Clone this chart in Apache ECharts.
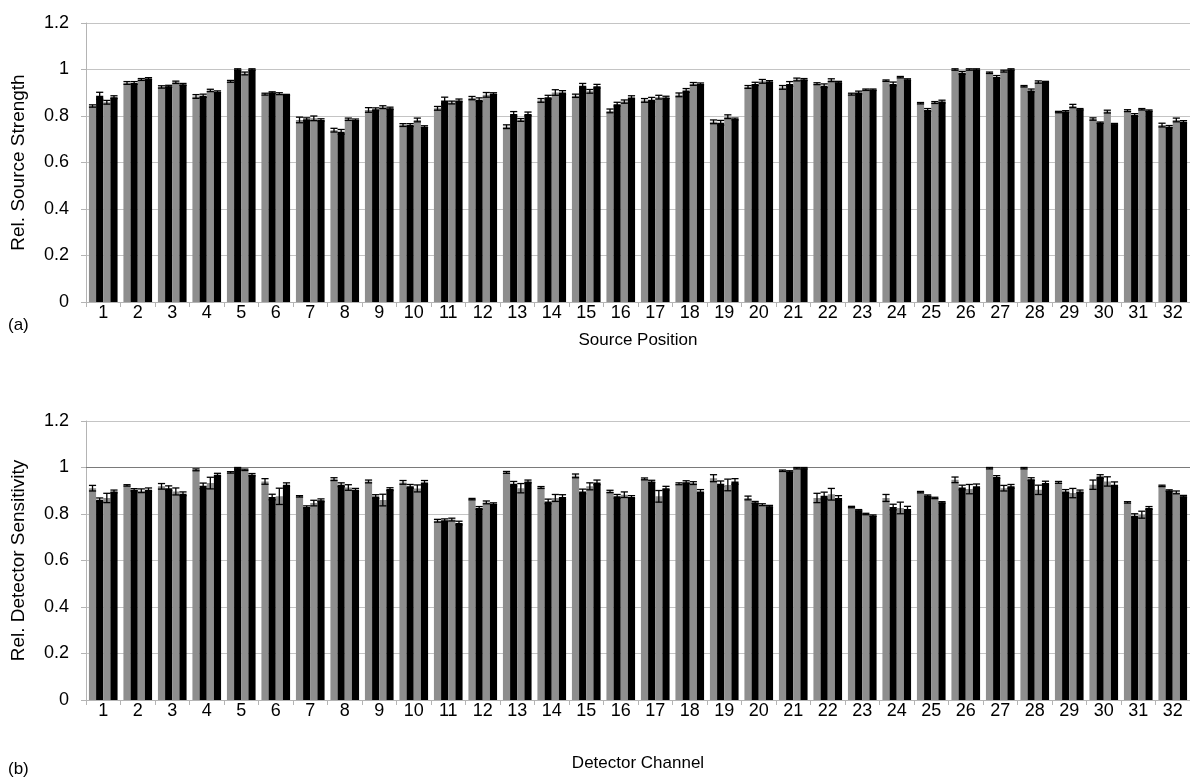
<!DOCTYPE html>
<html>
<head>
<meta charset="utf-8">
<script src="https://cdn.jsdelivr.net/npm/echarts@6/dist/echarts.min.js"></script>
<style>
html,body{margin:0;padding:0;background:#fff;}
#chart{width:1190px;height:783px;}
</style>
</head>
<body>
<div id="chart"></div>
<script>
const categories = ['1','2','3','4','5','6','7','8','9','10','11','12','13','14','15','16','17','18','19','20','21','22','23','24','25','26','27','28','29','30','31','32'];
const yTicks = [0, 0.2, 0.4, 0.6, 0.8, 1, 1.2];

// (a) Relative source strength, four measurements per source position
const srcGray1  = [0.843,0.942,0.925,0.884,0.949,0.894,0.783,0.739,0.826,0.761,0.833,0.877,0.754,0.867,0.887,0.822,0.867,0.891,0.775,0.925,0.923,0.939,0.894,0.952,0.855,1.000,0.986,0.928,0.817,0.787,0.823,0.761];
const srcBlack1 = [0.887,0.942,0.928,0.887,1.000,0.901,0.786,0.732,0.829,0.761,0.867,0.870,0.809,0.881,0.930,0.851,0.870,0.910,0.771,0.938,0.938,0.930,0.901,0.938,0.826,0.986,0.968,0.910,0.819,0.771,0.804,0.754];
const srcGray2  = [0.859,0.957,0.945,0.910,0.983,0.896,0.790,0.786,0.838,0.783,0.858,0.891,0.783,0.901,0.906,0.862,0.881,0.938,0.797,0.949,0.957,0.954,0.913,0.967,0.858,1.000,0.993,0.946,0.843,0.819,0.829,0.783];
const srcBlack2 = [0.881,0.961,0.936,0.904,1.000,0.890,0.783,0.783,0.833,0.754,0.867,0.896,0.809,0.901,0.928,0.880,0.880,0.938,0.787,0.948,0.957,0.945,0.913,0.957,0.862,1.000,1.000,0.946,0.829,0.765,0.823,0.775];
const srcErrGray1  = [0.005,0.006,0.005,0.008,0.004,0.004,0.012,0.008,0.010,0.006,0.008,0.007,0.008,0.008,0.007,0.008,0.008,0.008,0.008,0.006,0.008,0.004,0.004,0.003,0.003,0.003,0.003,0.003,0.003,0.005,0.004,0.008];
const srcErrBlack1 = [0.015,0.006,0.004,0.007,0.003,0.003,0.006,0.010,0.006,0.006,0.014,0.008,0.010,0.008,0.010,0.008,0.010,0.008,0.010,0.007,0.010,0.008,0.006,0.008,0.006,0.006,0.006,0.006,0.004,0.003,0.006,0.005];
const srcErrGray2  = [0.008,0.004,0.005,0.005,0.006,0.004,0.010,0.005,0.006,0.008,0.006,0.010,0.006,0.012,0.008,0.007,0.008,0.006,0.008,0.008,0.006,0.006,0.003,0.003,0.004,0.003,0.004,0.005,0.007,0.006,0.003,0.008];
const srcErrBlack2 = [0.006,0.004,0.004,0.004,0.003,0.003,0.005,0.004,0.005,0.004,0.006,0.004,0.008,0.008,0.008,0.007,0.005,0.004,0.004,0.004,0.004,0.004,0.003,0.003,0.006,0.003,0.003,0.003,0.003,0.003,0.003,0.005];

// (b) Relative detector sensitivity, four measurements per detector channel
const detGray1  = [0.911,0.923,0.919,0.990,0.979,0.940,0.876,0.950,0.940,0.936,0.771,0.864,0.979,0.914,0.964,0.897,0.951,0.930,0.954,0.869,0.986,0.869,0.830,0.869,0.894,0.947,0.997,0.997,0.936,0.926,0.850,0.921];
const detBlack1 = [0.861,0.904,0.911,0.921,0.997,0.873,0.830,0.926,0.875,0.919,0.773,0.826,0.930,0.854,0.897,0.876,0.940,0.937,0.930,0.850,0.983,0.879,0.816,0.830,0.879,0.914,0.959,0.950,0.897,0.961,0.793,0.901];
const detGray2  = [0.869,0.900,0.897,0.933,0.990,0.876,0.847,0.914,0.860,0.910,0.776,0.850,0.911,0.869,0.919,0.883,0.876,0.933,0.925,0.840,0.997,0.885,0.800,0.826,0.869,0.907,0.911,0.904,0.890,0.940,0.797,0.893];
const detBlack2 = [0.897,0.904,0.887,0.969,0.969,0.926,0.859,0.904,0.907,0.936,0.761,0.844,0.940,0.873,0.936,0.873,0.911,0.897,0.940,0.833,0.997,0.869,0.793,0.821,0.850,0.919,0.919,0.933,0.897,0.926,0.826,0.876];
const detErrGray1  = [0.012,0.003,0.012,0.004,0.003,0.012,0.003,0.006,0.006,0.008,0.006,0.003,0.004,0.004,0.008,0.005,0.004,0.004,0.015,0.008,0.003,0.020,0.003,0.015,0.003,0.012,0.003,0.003,0.004,0.020,0.003,0.003];
const detErrBlack1 = [0.008,0.005,0.010,0.012,0.003,0.012,0.005,0.008,0.008,0.008,0.006,0.006,0.010,0.010,0.010,0.008,0.005,0.006,0.012,0.004,0.003,0.015,0.003,0.012,0.003,0.010,0.006,0.006,0.008,0.008,0.008,0.003];
const detErrGray2  = [0.020,0.008,0.015,0.025,0.003,0.035,0.012,0.012,0.025,0.015,0.006,0.006,0.020,0.015,0.015,0.012,0.025,0.006,0.025,0.004,0.003,0.025,0.003,0.025,0.003,0.020,0.012,0.020,0.020,0.020,0.015,0.006];
const detErrBlack2 = [0.006,0.008,0.008,0.006,0.005,0.008,0.006,0.006,0.006,0.008,0.008,0.004,0.006,0.010,0.010,0.006,0.008,0.008,0.012,0.004,0.003,0.010,0.003,0.012,0.003,0.010,0.008,0.008,0.006,0.012,0.006,0.004];

const GRAY = '#8e8e8e', BLACK = '#000000';
const CAT_GAP = 0.17;
const FONT = 'Liberation Sans, Arial, sans-serif';

function errData(lists) {
  const out = [];
  lists.forEach(function (pair, k) {
    const vals = pair[0], errs = pair[1];
    for (let i = 0; i < vals.length; i++) out.push([i, k, vals[i], errs[i]]);
  });
  return out;
}

function renderErr(params, api) {
  const i = api.value(0), k = api.value(1), v = api.value(2), e = api.value(3);
  const band = api.size([1, 0])[0];
  const bw = band * (1 - CAT_GAP) / 4;
  const c = api.coord([i, v]);
  const x = c[0] - 2 * bw + (k + 0.5) * bw;
  const yt = api.coord([i, v + e])[1];
  const yb = api.coord([i, v - e])[1];
  const cap = bw * 0.5;
  const st = { stroke: '#000', lineWidth: 1.3 };
  return {
    type: 'group',
    children: [
      { type: 'line', shape: { x1: x, y1: yt, x2: x, y2: yb }, style: st },
      { type: 'line', shape: { x1: x - cap, y1: yt, x2: x + cap, y2: yt }, style: st },
      { type: 'line', shape: { x1: x - cap, y1: yb, x2: x + cap, y2: yb }, style: st }
    ]
  };
}

function xAxis(idx, name, gap) {
  return {
    type: 'category', gridIndex: idx, data: categories,
    name: name, nameLocation: 'middle', nameGap: gap,
    nameTextStyle: { fontFamily: FONT, fontSize: 17, color: '#000' },
    axisLine: { lineStyle: { color: '#b4b4b4', width: 1 } },
    axisTick: { show: true, length: 5, lineStyle: { color: '#b4b4b4' } },
    axisLabel: { fontFamily: FONT, fontSize: 18, color: '#000', margin: 2 }
  };
}
function yAxis(idx, name) {
  return {
    type: 'value', gridIndex: idx, min: 0, max: 1.2, interval: 0.2,
    name: name, nameLocation: 'middle', nameGap: 58,
    nameTextStyle: { fontFamily: FONT, fontSize: 19, color: '#000' },
    axisLine: { show: true, lineStyle: { color: '#b4b4b4', width: 1 } },
    axisTick: { show: true, length: 5, lineStyle: { color: '#b4b4b4' } },
    splitLine: { lineStyle: { color: '#c4c4c4', width: 1 } },
    axisLabel: {
      fontFamily: FONT, fontSize: 18, color: '#000', margin: 17,
      formatter: function (v) { return String(Math.round(v * 10) / 10); }
    }
  };
}
function bar(name, data, color, gi, extra) {
  return Object.assign({
    name: name, type: 'bar', xAxisIndex: gi, yAxisIndex: gi, data: data,
    barGap: '0%', barCategoryGap: (CAT_GAP * 100) + '%',
    itemStyle: { color: color }, silent: true
  }, extra || {});
}

const chart = echarts.init(document.getElementById('chart'), null, { renderer: 'canvas' });
chart.setOption({
  backgroundColor: '#fff',
  animation: false,
  grid: [
    { left: 86, top: 23, width: 1109, height: 279 },
    { left: 86, top: 421, width: 1109, height: 279 }
  ],
  xAxis: [xAxis(0, 'Source Position', 30), xAxis(1, 'Detector Channel', 55)],
  yAxis: [yAxis(0, 'Rel. Source Strength'), yAxis(1, 'Rel. Detector Sensitivity')],
  graphic: [
    { type: 'text', left: 8, top: 317, style: { text: '(a)', font: '17px ' + FONT, fill: '#000' } },
    { type: 'text', left: 8, top: 761, style: { text: '(b)', font: '17px ' + FONT, fill: '#000' } }
  ],
  series: [
    bar('Source 1', srcGray1, GRAY, 0),
    bar('Source 2', srcBlack1, BLACK, 0),
    bar('Source 3', srcGray2, GRAY, 0),
    bar('Source 4', srcBlack2, BLACK, 0),
    bar('Detector 1', detGray1, GRAY, 1, {
      markLine: { silent: true, symbol: 'none', label: { show: false },
        lineStyle: { color: '#7a7a7a', width: 1.2, type: 'solid' }, data: [{ yAxis: 1 }] }
    }),
    bar('Detector 2', detBlack1, BLACK, 1),
    bar('Detector 3', detGray2, GRAY, 1),
    bar('Detector 4', detBlack2, BLACK, 1),
    { type: 'custom', xAxisIndex: 0, yAxisIndex: 0, renderItem: renderErr, silent: true, z: 5,
      data: errData([[srcGray1, srcErrGray1], [srcBlack1, srcErrBlack1], [srcGray2, srcErrGray2], [srcBlack2, srcErrBlack2]]) },
    { type: 'custom', xAxisIndex: 1, yAxisIndex: 1, renderItem: renderErr, silent: true, z: 5,
      data: errData([[detGray1, detErrGray1], [detBlack1, detErrBlack1], [detGray2, detErrGray2], [detBlack2, detErrBlack2]]) }
  ]
});
</script>
</body>
</html>
